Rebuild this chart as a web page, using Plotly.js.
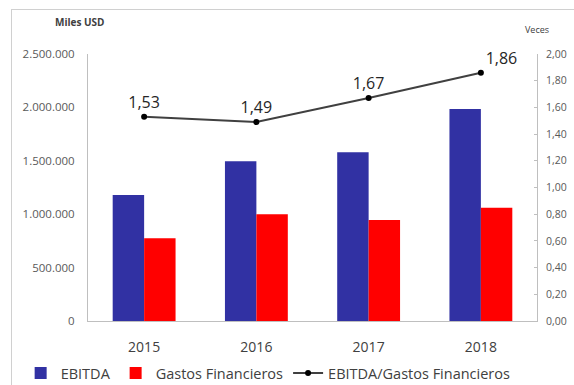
<!DOCTYPE html>
<html>
<head>
<meta charset="utf-8">
<script src="https://cdn.plot.ly/plotly-3.0.1.min.js"></script>
<style>
  html, body { margin: 0; padding: 0; background: #ffffff; }
  #wrap { position: relative; width: 574px; height: 385px; overflow: hidden; }
  #chart { position: absolute; left: 0; top: 0; width: 574px; height: 385px; }
  #frame { position: absolute; left: 11px; top: 9px; width: 600px; height: 400px; border: 1px solid #d0d0d0; pointer-events: none; }
</style>
</head>
<body>
<div id="wrap">
  <div id="chart"></div>
  <div id="frame"></div>
</div>
<script>
const years = ['2015', '2016', '2017', '2018'];
const ebitda = [1180000, 1495000, 1580000, 1985000];
const gastosFinancieros = [775000, 1000000, 945000, 1060000];
const ratio = [1.53, 1.49, 1.67, 1.86];
const ratioLabelPos = ['top center', 'top center', 'top center', 'top right'];

const traces = [
  {
    type: 'bar', name: 'EBITDA', x: years, y: ebitda,
    marker: { color: '#3131A3' }, yaxis: 'y', hoverinfo: 'skip'
  },
  {
    type: 'bar', name: 'Gastos Financieros', x: years, y: gastosFinancieros,
    marker: { color: '#FF0000' }, yaxis: 'y', hoverinfo: 'skip'
  },
  {
    type: 'scatter', mode: 'lines+markers+text', name: 'EBITDA/Gastos Financieros',
    x: years, y: ratio, yaxis: 'y2',
    line: { color: '#404040', width: 2 },
    marker: { color: '#000000', size: 6 },
    texttemplate: '%{y:.2f}', textposition: ratioLabelPos,
    textfont: { family: 'Open Sans, sans-serif', size: 16, color: '#262626' },
    cliponaxis: false, hoverinfo: 'skip'
  }
];

const layout = {
  width: 574, height: 385,
  margin: { l: 88, r: 37, t: 54, b: 64, autoexpand: false },
  paper_bgcolor: '#ffffff', plot_bgcolor: '#ffffff',
  separators: ',.',
  barmode: 'group', bargap: 0.44, bargroupgap: 0,
  font: { family: 'Open Sans, sans-serif', color: '#595959' },
  showlegend: true,
  legend: {
    orientation: 'h', x: -0.15, xanchor: 'left', y: -0.135, yanchor: 'top',
    font: { size: 14.5, color: '#404040' }, traceorder: 'normal',
    itemwidth: 30, tracegroupgap: 0, bgcolor: 'rgba(0,0,0,0)'
  },
  xaxis: {
    type: 'category', showline: true, linecolor: '#bfbfbf', linewidth: 1,
    showgrid: false, ticks: 'outside', ticklen: 13, tickcolor: 'rgba(0,0,0,0)',
    tickfont: { size: 14, color: '#404040' }
  },
  yaxis: {
    range: [0, 2500000], dtick: 500000, tickformat: ',d',
    showline: true, linecolor: '#bfbfbf', linewidth: 1,
    showgrid: false, zeroline: false,
    ticks: 'outside', ticklen: 10, tickcolor: 'rgba(0,0,0,0)',
    tickfont: { size: 11.5, color: '#595959' }
  },
  yaxis2: {
    overlaying: 'y', side: 'right', range: [0, 2], dtick: 0.2, tickformat: '.2f',
    showline: true, linecolor: '#bfbfbf', linewidth: 1,
    showgrid: false, zeroline: false,
    ticks: 'inside', ticklen: 3, tickcolor: '#bfbfbf', ticklabelstandoff: 6,
    tickfont: { size: 10.5, color: '#595959' }
  },
  annotations: [
    { xref: 'paper', yref: 'paper', x: -0.02, y: 1.12, xanchor: 'center', yanchor: 'middle',
      text: '<b>Miles USD</b>', showarrow: false, font: { size: 10, color: '#404040' } },
    { xref: 'paper', yref: 'paper', x: 1.0, y: 1.09, xanchor: 'center', yanchor: 'middle',
      text: 'Veces', showarrow: false, font: { size: 9, color: '#404040' } }
  ]
};

Plotly.newPlot('chart', traces, layout, { displayModeBar: false, staticPlot: true });
</script>
</body>
</html>
